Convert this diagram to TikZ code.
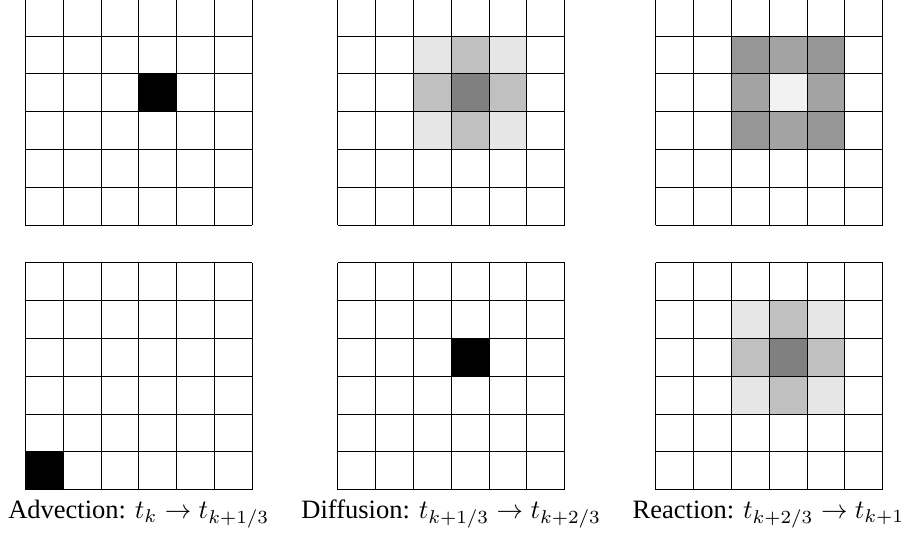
\documentclass[tikz,border=0pt]{standalone}
\usepackage{fontspec}
\setmainfont{Liberation Serif}
\begin{document}
\begin{tikzpicture}[x=1pt,y=-1pt]
\def\cs{37.83}
\definecolor{gA}{HTML}{E6E6E6}
\definecolor{gB}{HTML}{C0C0C0}
\definecolor{gC}{HTML}{808080}
\definecolor{rA}{HTML}{969696}
\definecolor{rB}{HTML}{A3A3A3}
\definecolor{rC}{HTML}{F2F2F2}
\tikzset{gridline/.style={line width=0.9pt,black},
  lbl/.style={anchor=base,inner sep=0pt}}
\newcommand{\lbltext}[1]{\scalebox{2.65}{\fontsize{10}{12}\selectfont #1}}
\useasboundingbox (0,0) rectangle (904,533);
\begin{scope}
\clip (0,0) rectangle (904,533);
% cell fill: #1=X, #2=Y, #3=col, #4=row, #5=color
\newcommand{\cellfill}[5]{\fill[#5] ({#1+#3*\cs},{#2+#4*\cs}) rectangle ++(\cs,\cs);}
\newcommand{\gridsix}[2]{%
  \foreach \i in {0,...,6}{%
    \draw[gridline] ({#1+\i*\cs},{#2}) -- ({#1+\i*\cs},{#2+6*\cs});
    \draw[gridline] ({#1},{#2+\i*\cs}) -- ({#1+6*\cs},{#2+\i*\cs});
  }}
\def\ty{-1.8}
\def\by{262.7}
\def\xa{25.3}
\def\xb{337.7}
\def\xc{655.7}
% grid 1 top
\cellfill{\xa}{\ty}{3}{2}{black}
\gridsix{\xa}{\ty}
% grid 2 top
\cellfill{\xb}{\ty}{2}{1}{gA}\cellfill{\xb}{\ty}{3}{1}{gB}\cellfill{\xb}{\ty}{4}{1}{gA}
\cellfill{\xb}{\ty}{2}{2}{gB}\cellfill{\xb}{\ty}{3}{2}{gC}\cellfill{\xb}{\ty}{4}{2}{gB}
\cellfill{\xb}{\ty}{2}{3}{gA}\cellfill{\xb}{\ty}{3}{3}{gB}\cellfill{\xb}{\ty}{4}{3}{gA}
\gridsix{\xb}{\ty}
% grid 3 top
\cellfill{\xc}{\ty}{2}{1}{rA}\cellfill{\xc}{\ty}{3}{1}{rB}\cellfill{\xc}{\ty}{4}{1}{rA}
\cellfill{\xc}{\ty}{2}{2}{rB}\cellfill{\xc}{\ty}{3}{2}{rC}\cellfill{\xc}{\ty}{4}{2}{rB}
\cellfill{\xc}{\ty}{2}{3}{rA}\cellfill{\xc}{\ty}{3}{3}{rB}\cellfill{\xc}{\ty}{4}{3}{rA}
\gridsix{\xc}{\ty}
% grid 1 bottom
\cellfill{\xa}{\by}{0}{5}{black}
\gridsix{\xa}{\by}
% grid 2 bottom
\cellfill{\xb}{\by}{3}{2}{black}
\gridsix{\xb}{\by}
% grid 3 bottom
\cellfill{\xc}{\by}{2}{1}{gA}\cellfill{\xc}{\by}{3}{1}{gB}\cellfill{\xc}{\by}{4}{1}{gA}
\cellfill{\xc}{\by}{2}{2}{gB}\cellfill{\xc}{\by}{3}{2}{gC}\cellfill{\xc}{\by}{4}{2}{gB}
\cellfill{\xc}{\by}{2}{3}{gA}\cellfill{\xc}{\by}{3}{3}{gB}\cellfill{\xc}{\by}{4}{3}{gA}
\gridsix{\xc}{\by}
\end{scope}
\node[lbl] (la) at (138.8,518.7) {\lbltext{Advection: $t_k \to t_{k+1/3}$}};
\node[lbl] (lb) at (451.3,518.7) {\lbltext{Diffusion: $t_{k+1/3} \to t_{k+2/3}$}};
\node[lbl] (lc) at (768.5,518.7) {\lbltext{Reaction: $t_{k+2/3} \to t_{k+1}$}};
\end{tikzpicture}
\end{document}
